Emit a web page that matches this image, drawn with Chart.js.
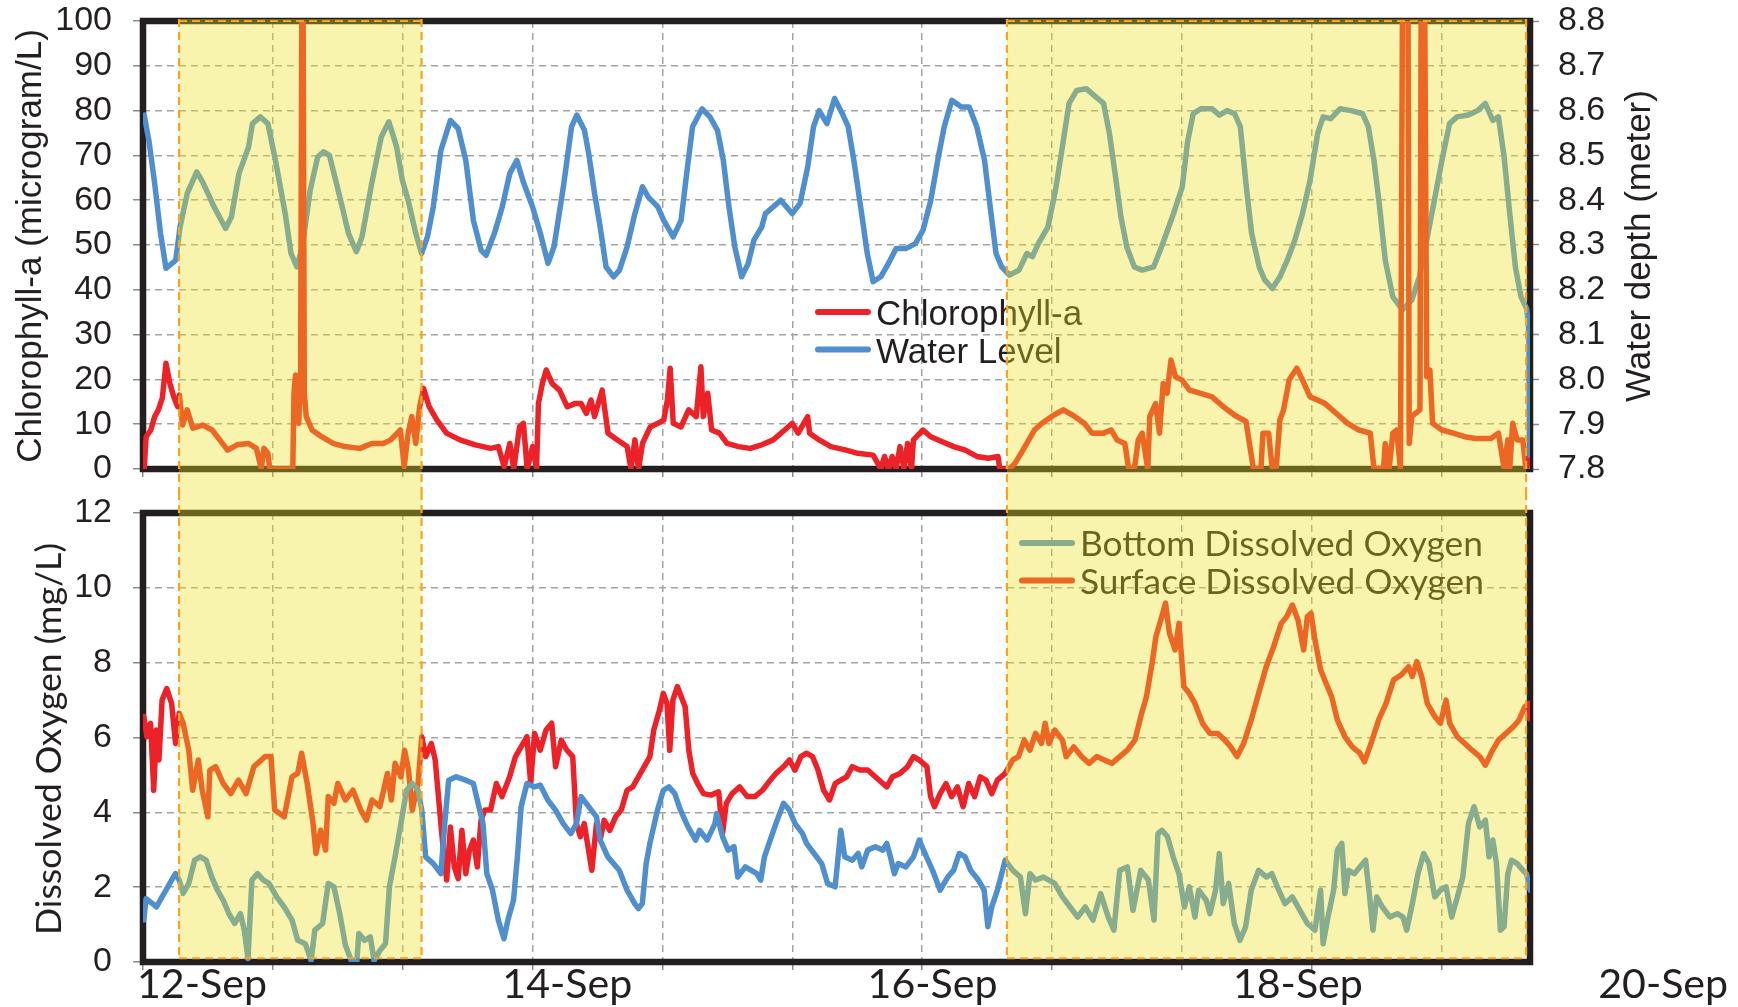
<!DOCTYPE html>
<html>
<head>
<meta charset="utf-8">
<style>
  html, body { margin: 0; padding: 0; background: #fff; }
  #wrap { position: relative; width: 1738px; height: 1007px; }
  #topBox { position: absolute; left: 0; top: 0; width: 1738px; height: 492px; }
  #botBox { position: absolute; left: 0; top: 492px; width: 1738px; height: 515px; }
</style>
<script src="https://cdn.jsdelivr.net/npm/chart.js"></script>
</head>
<body>
<div id="wrap">
  <div id="topBox"><canvas id="topChart"></canvas></div>
  <div id="botBox"><canvas id="botChart"></canvas></div>
</div>

<script>
// ---- data (day of September) ----
const wlDays = [12.006,12.03,12.06,12.09,12.118,12.138,12.168,12.19,12.227,12.276,12.306,12.365,12.424,12.454,12.493,12.542,12.562,12.602,12.641,12.68,12.73,12.76,12.79,12.818,12.858,12.897,12.927,12.957,13.006,13.055,13.095,13.124,13.174,13.223,13.262,13.302,13.331,13.361,13.4,13.43,13.46,13.49,13.529,13.578,13.618,13.657,13.696,13.736,13.761,13.804,13.844,13.883,13.919,13.952,14.0,14.04,14.079,14.11,14.158,14.2,14.227,14.266,14.288,14.318,14.347,14.377,14.416,14.446,14.485,14.525,14.564,14.594,14.643,14.673,14.722,14.762,14.791,14.821,14.87,14.91,14.949,14.979,15.008,15.038,15.073,15.107,15.136,15.176,15.195,15.235,15.274,15.333,15.373,15.412,15.442,15.471,15.511,15.55,15.59,15.62,15.649,15.689,15.718,15.748,15.787,15.827,15.866,15.915,15.965,16.004,16.044,16.083,16.113,16.152,16.201,16.241,16.28,16.32,16.349,16.379,16.408,16.448,16.497,16.537,16.566,16.596,16.645,16.684,16.714,16.754,16.793,16.842,16.882,16.931,16.961,16.99,17.02,17.05,17.089,17.129,17.188,17.232,17.29,17.335,17.362,17.391,17.43,17.488,17.526,17.565,17.604,17.633,17.662,17.691,17.73,17.758,17.797,17.836,17.874,17.913,17.952,17.991,18.03,18.058,18.097,18.145,18.203,18.261,18.29,18.319,18.348,18.377,18.416,18.465,18.513,18.552,18.59,18.629,18.668,18.707,18.745,18.803,18.852,18.89,18.929,18.958,18.987,19.016,19.045,19.074,19.103,19.115,19.12];
const wlDepth = [8.59,8.534,8.437,8.326,8.248,8.255,8.266,8.34,8.415,8.463,8.441,8.385,8.337,8.363,8.46,8.519,8.571,8.586,8.571,8.489,8.37,8.281,8.251,8.296,8.422,8.497,8.508,8.5,8.415,8.326,8.285,8.318,8.437,8.541,8.575,8.519,8.445,8.4,8.326,8.281,8.318,8.385,8.511,8.578,8.56,8.489,8.355,8.288,8.277,8.326,8.385,8.46,8.489,8.441,8.385,8.326,8.259,8.296,8.43,8.564,8.59,8.556,8.504,8.415,8.34,8.251,8.229,8.244,8.296,8.37,8.43,8.407,8.385,8.355,8.318,8.355,8.46,8.564,8.604,8.586,8.556,8.489,8.385,8.296,8.229,8.259,8.311,8.34,8.37,8.385,8.4,8.37,8.393,8.474,8.564,8.6,8.571,8.627,8.593,8.564,8.489,8.37,8.281,8.218,8.229,8.259,8.292,8.292,8.303,8.333,8.4,8.497,8.564,8.623,8.608,8.608,8.564,8.489,8.385,8.281,8.251,8.233,8.244,8.281,8.274,8.303,8.34,8.422,8.504,8.616,8.645,8.649,8.634,8.616,8.549,8.46,8.363,8.296,8.251,8.244,8.251,8.30,8.37,8.43,8.53,8.593,8.604,8.604,8.59,8.6,8.593,8.564,8.437,8.326,8.251,8.222,8.203,8.229,8.266,8.311,8.37,8.445,8.549,8.586,8.582,8.604,8.6,8.593,8.564,8.489,8.385,8.266,8.184,8.155,8.177,8.229,8.311,8.4,8.489,8.571,8.586,8.59,8.6,8.616,8.578,8.586,8.497,8.37,8.251,8.184,8.158,8.103,7.805];

const chlDays = [12.006,12.016,12.04,12.06,12.079,12.099,12.118,12.138,12.158,12.178,12.187,12.203,12.227,12.256,12.306,12.355,12.394,12.434,12.483,12.542,12.582,12.607,12.621,12.641,12.651,12.769,12.775,12.783,12.799,12.809,12.815,12.822,12.828,12.838,12.868,12.917,12.976,13.036,13.114,13.174,13.233,13.272,13.321,13.341,13.361,13.38,13.4,13.42,13.44,13.469,13.509,13.558,13.627,13.706,13.785,13.824,13.854,13.883,13.903,13.933,13.953,13.972,14.0,14.02,14.03,14.05,14.07,14.1,14.138,14.178,14.217,14.249,14.276,14.3,14.318,14.357,14.387,14.436,14.485,14.505,14.525,14.544,14.564,14.604,14.643,14.673,14.692,14.706,14.722,14.762,14.801,14.84,14.864,14.876,14.899,14.919,14.959,14.998,15.057,15.117,15.176,15.235,15.294,15.333,15.363,15.412,15.422,15.471,15.531,15.61,15.669,15.748,15.787,15.807,15.827,15.846,15.866,15.886,15.906,15.925,15.945,15.955,16.004,16.044,16.103,16.162,16.221,16.28,16.339,16.389,16.398,16.448,16.477,16.517,16.576,16.615,16.674,16.724,16.773,16.832,16.872,16.931,16.97,17.0,17.04,17.06,17.089,17.109,17.129,17.158,17.168,17.198,17.218,17.237,17.257,17.277,17.3,17.333,17.372,17.43,17.488,17.546,17.604,17.662,17.685,17.7,17.739,17.749,17.778,17.797,17.817,17.836,17.855,17.884,17.923,17.952,17.991,18.03,18.068,18.126,18.184,18.242,18.3,18.319,18.368,18.377,18.397,18.416,18.435,18.455,18.465,18.494,18.5,18.513,18.532,18.555,18.561,18.58,18.59,18.606,18.62,18.668,18.726,18.784,18.842,18.919,18.958,18.987,19.006,19.016,19.031,19.054,19.083,19.099,19.12];
const chlVals = [0.1,7.2,8.7,11.7,13.2,15.8,23.6,19.1,16.1,13.9,16.5,9.8,13.2,9.1,9.8,8.7,6.5,4.2,5.4,5.7,4.6,0.1,4.6,3.5,0,0,16.9,21,10.2,19.1,100,100,16.9,11.7,8.7,7.2,5.7,5.0,4.6,5.7,5.7,6.5,8.7,0.5,8.0,11.7,5.7,13.9,18,13.9,10.9,8.0,6.5,5.4,4.6,5.0,0.5,5.7,0,9.4,10.2,0,5.0,0.1,14.6,19.1,22.1,19.1,17.6,13.9,14.6,14.6,12.4,15.4,11.7,17.6,8.0,6.5,5.0,0.1,6.5,0,5.7,9.4,10.2,10.9,15.4,22.5,10.2,9.4,13.2,11.7,22.8,11.7,16.9,8.7,8.0,5.7,5.0,4.6,5.4,6.5,8.7,10.2,8.0,11.7,8.0,6.5,5.0,4.2,3.5,3.1,0.1,2.8,0,2.8,0,5.0,0,5.7,0,6.5,8.7,7.2,6.1,5.0,4.2,2.8,2.4,2.8,0,0,1.3,4.2,8.7,10.2,12,13.2,12,10.2,8.0,8.0,8.7,6.5,5.7,0,0,6.5,8.0,0,11.7,14.6,8.0,19.1,16.9,24.3,20.6,19.9,17.6,16.9,16.1,13.9,12.0,10.6,4.2,0.1,0.1,8.0,8.0,0.1,0.1,10.9,13.2,19.9,22.5,19.9,16.1,15.4,14.6,12.4,10.2,8.7,8.0,0.1,0.1,5.7,0.1,8.0,8.7,0.1,100,100,5.7,11.7,12.4,13.2,100,100,20.6,22.1,10.2,8.7,8.0,7.2,6.8,6.8,8.0,0.1,6.5,0.1,10.2,6.5,6.5,0,2];

const sdoDays = [12.004,12.02,12.039,12.055,12.069,12.082,12.098,12.122,12.147,12.167,12.186,12.206,12.235,12.255,12.284,12.304,12.333,12.343,12.373,12.412,12.451,12.49,12.529,12.569,12.627,12.657,12.676,12.725,12.765,12.794,12.814,12.843,12.873,12.888,12.912,12.937,12.951,12.98,13.0,13.039,13.078,13.118,13.147,13.176,13.216,13.255,13.275,13.294,13.324,13.343,13.363,13.382,13.412,13.431,13.451,13.48,13.5,13.529,13.545,13.559,13.578,13.598,13.618,13.637,13.657,13.676,13.696,13.716,13.735,13.755,13.784,13.814,13.843,13.882,13.912,13.941,13.971,13.99,14.01,14.039,14.069,14.098,14.118,14.147,14.176,14.206,14.225,14.245,14.265,14.304,14.328,14.347,14.367,14.396,14.426,14.455,14.485,14.514,14.543,14.573,14.602,14.622,14.651,14.671,14.69,14.704,14.72,14.743,14.763,14.783,14.802,14.822,14.847,14.877,14.916,14.955,14.975,14.994,15.024,15.063,15.102,15.141,15.18,15.22,15.249,15.288,15.318,15.347,15.377,15.406,15.437,15.465,15.494,15.524,15.553,15.582,15.612,15.641,15.68,15.72,15.759,15.798,15.818,15.847,15.886,15.925,15.955,15.984,16.024,16.043,16.063,16.092,16.122,16.151,16.181,16.21,16.239,16.269,16.298,16.327,16.357,16.386,16.426,16.465,16.494,16.524,16.553,16.582,16.612,16.631,16.651,16.68,16.72,16.739,16.778,16.818,16.857,16.896,16.935,16.974,17.014,17.053,17.092,17.122,17.151,17.18,17.2,17.23,17.249,17.269,17.298,17.318,17.343,17.371,17.4,17.439,17.477,17.516,17.554,17.583,17.616,17.65,17.689,17.727,17.766,17.804,17.843,17.871,17.9,17.929,17.958,17.977,17.996,18.016,18.045,18.073,18.102,18.131,18.17,18.208,18.247,18.27,18.304,18.343,18.381,18.42,18.458,18.497,18.516,18.539,18.564,18.593,18.631,18.66,18.689,18.708,18.747,18.785,18.823,18.862,18.891,18.92,18.958,18.997,19.035,19.064,19.093,19.116,19.12];
const sdoVals = [6.56,6.02,6.38,4.59,6.2,5.4,7.0,7.31,6.91,5.84,6.65,6.38,5.66,4.59,5.4,4.59,3.88,5.13,5.22,4.77,4.5,4.86,4.5,5.22,5.49,5.49,4.06,3.88,4.95,5.04,5.58,4.77,3.7,2.9,3.52,2.99,4.42,4.24,4.77,4.33,4.59,4.06,3.79,4.33,4.15,5.04,4.33,5.31,4.95,5.66,5.13,4.06,4.77,6.02,5.49,5.84,5.4,3.7,2.81,2.19,3.61,2.54,2.23,3.52,2.36,2.99,3.26,2.54,3.79,4.06,4.06,4.77,4.42,4.95,5.49,5.75,6.02,4.77,6.11,5.66,6.2,6.38,5.22,5.93,5.66,5.49,3.7,3.35,3.7,2.45,3.7,3.26,3.79,3.52,3.88,4.06,4.59,4.68,4.95,5.22,5.49,6.2,6.73,7.18,6.91,5.66,7.0,7.36,7.09,6.82,5.66,5.04,4.77,4.5,4.46,4.55,3.43,4.24,4.5,4.68,4.42,4.42,4.59,4.86,5.04,5.22,5.4,5.13,5.49,5.58,5.49,5.13,4.59,4.33,4.77,4.86,4.95,5.22,5.13,5.13,4.95,4.77,4.68,4.95,5.04,5.22,5.49,5.4,5.22,4.42,4.15,4.5,4.77,4.42,4.68,4.15,4.77,4.42,4.95,4.86,4.5,4.86,5.04,5.4,5.49,5.93,5.66,6.11,5.84,6.38,5.84,6.2,5.93,5.49,5.75,5.49,5.31,5.49,5.4,5.31,5.49,5.66,5.93,6.56,7.09,7.98,8.7,9.23,9.59,8.79,8.34,9.05,7.36,7.18,6.91,6.38,6.11,6.11,5.93,5.75,5.49,5.84,6.47,7.18,7.89,8.43,9.05,9.23,9.54,9.14,8.34,9.23,9.32,8.61,7.81,7.45,7.09,6.47,6.02,5.75,5.58,5.35,5.84,6.47,6.91,7.54,7.67,7.89,7.63,8.03,7.63,6.91,6.56,6.38,7.0,6.38,6.02,5.84,5.66,5.49,5.26,5.58,5.93,6.11,6.29,6.47,6.82,6.91,6.5];

const bdoDays = [12.004,12.016,12.049,12.069,12.098,12.118,12.147,12.167,12.186,12.206,12.235,12.265,12.294,12.324,12.353,12.382,12.412,12.441,12.471,12.5,12.52,12.539,12.559,12.588,12.618,12.647,12.686,12.725,12.765,12.794,12.833,12.863,12.882,12.922,12.951,12.98,13.01,13.039,13.069,13.098,13.108,13.137,13.167,13.186,13.216,13.245,13.265,13.294,13.324,13.353,13.382,13.412,13.431,13.451,13.49,13.529,13.549,13.569,13.608,13.657,13.696,13.716,13.745,13.765,13.794,13.824,13.853,13.873,13.902,13.922,13.941,13.971,14.01,14.039,14.078,14.118,14.157,14.196,14.225,14.249,14.288,14.328,14.347,14.386,14.445,14.485,14.524,14.543,14.563,14.583,14.602,14.641,14.671,14.7,14.73,14.759,14.798,14.837,14.857,14.896,14.936,14.945,14.975,15.004,15.034,15.053,15.092,15.151,15.171,15.19,15.22,15.249,15.288,15.318,15.347,15.386,15.406,15.445,15.484,15.514,15.553,15.582,15.602,15.641,15.671,15.69,15.72,15.759,15.798,15.818,15.837,15.857,15.877,15.916,15.955,15.985,16.014,16.053,16.092,16.131,16.161,16.19,16.22,16.249,16.288,16.318,16.337,16.357,16.386,16.426,16.465,16.504,16.53,16.553,16.582,16.622,16.68,16.72,16.759,16.798,16.837,16.877,16.916,16.955,16.984,17.014,17.053,17.082,17.122,17.161,17.19,17.21,17.23,17.259,17.288,17.318,17.346,17.371,17.4,17.419,17.458,17.477,17.506,17.525,17.545,17.573,17.602,17.631,17.66,17.689,17.727,17.766,17.795,17.823,17.862,17.9,17.939,17.977,18.016,18.045,18.058,18.083,18.112,18.131,18.154,18.17,18.189,18.218,18.247,18.276,18.295,18.314,18.333,18.362,18.401,18.439,18.468,18.487,18.516,18.545,18.574,18.602,18.631,18.66,18.689,18.718,18.747,18.775,18.804,18.833,18.862,18.891,18.91,18.929,18.948,18.968,18.987,19.006,19.025,19.054,19.083,19.102,19.121];
const bdoVals = [1.12,1.69,1.56,1.47,1.74,1.92,2.19,2.36,2.19,1.83,2.1,2.72,2.81,2.72,2.27,1.92,1.65,1.29,1.03,1.29,0.85,0.09,2.19,2.36,2.19,2.1,1.74,1.47,1.12,0.58,0.49,0.04,0.85,1.03,2.1,2.01,1.29,0.45,0.04,0.04,0.76,0.58,0.67,0.04,0.31,0.49,2.01,2.81,3.7,4.59,4.77,4.59,4.06,2.81,2.63,2.36,3.7,4.86,4.95,4.86,4.77,4.33,3.7,2.36,1.92,1.12,0.62,1.12,1.65,2.81,4.15,4.77,4.68,4.73,4.33,4.06,3.7,3.43,3.7,4.42,4.15,3.88,3.26,2.81,2.45,1.92,1.56,1.43,1.56,2.63,3.17,4.06,4.59,4.68,4.5,4.06,3.61,3.26,3.52,3.26,3.7,3.97,3.35,2.99,3.08,2.27,2.54,2.36,2.19,2.81,3.26,3.7,4.24,4.06,3.7,3.43,3.17,2.9,2.63,2.1,2.01,3.52,2.81,2.72,2.9,2.54,2.99,3.08,2.99,3.17,2.81,2.36,2.63,2.54,2.81,3.26,2.9,2.45,1.92,2.27,2.45,2.9,2.81,2.45,2.19,1.92,0.94,1.47,1.92,2.72,2.45,2.27,1.29,2.36,2.19,2.27,2.1,1.74,1.47,1.2,1.47,1.12,1.83,1.2,0.85,2.45,2.54,1.38,2.45,2.19,1.12,3.43,3.52,3.35,2.81,2.36,1.47,2.01,1.2,1.92,1.65,1.29,1.92,2.9,1.56,2.1,1.03,0.58,0.94,1.92,2.45,2.27,2.36,2.01,1.56,1.74,1.38,1.03,0.85,1.92,0.49,1.2,1.92,2.99,3.17,1.83,2.45,2.36,2.54,2.72,1.83,0.85,1.74,1.47,1.2,1.29,1.2,0.85,1.56,2.36,2.9,2.63,1.74,1.92,2.01,1.2,1.74,2.27,3.7,4.15,3.61,3.79,2.81,3.26,2.63,0.85,0.94,2.36,2.72,2.63,2.45,2.36,1.92];

const xGrid = [12, 12.667, 13.333, 14, 14.667, 15.333, 16, 16.667, 17.333, 18, 18.667];
const dateLabels = ['12-Sep', '14-Sep', '16-Sep', '18-Sep', '20-Sep'];
const shadeStart = [12.185, 16.435];
const shadeEnd = [13.43, 19.1];

const RED = '#ed2228';
const BLUE = '#4f8fcd';
const INK = '#231f20';
const ARIAL = '"Liberation Sans", Arial, sans-serif';
const CALI = 'Lato, "Open Sans", sans-serif';

Chart.defaults.font.family = ARIAL;

const pts = (xs, ys) => xs.map((x, i) => ({ x: x, y: ys[i] }));

function fitFont(ctx, text, family, width) {
  ctx.font = '100px ' + family;
  return 100 * width / ctx.measureText(text).width;
}

function vText(ctx, text, x, y, font) {
  ctx.save();
  ctx.translate(x, y);
  ctx.rotate(-Math.PI / 2);
  ctx.font = font;
  ctx.fillStyle = INK;
  ctx.textAlign = 'center';
  ctx.textBaseline = 'middle';
  ctx.fillText(text, 0, 0);
  ctx.restore();
}

// frame, legend, yellow periods, titles
const panelDeco = {
  id: 'panelDeco',
  beforeDatasetsDraw(chart) {
    const { ctx, chartArea: a } = chart;
    ctx.save();
    ctx.strokeStyle = INK;
    ctx.lineWidth = 6.5;
    ctx.strokeRect(a.left, a.top, a.right - a.left, a.bottom - a.top);
    ctx.restore();
  },
  afterDatasetsDraw(chart, args, o) {
    const { ctx, chartArea: a, scales } = chart;
    ctx.save();
    // legend
    let fs = o.legendSize;
    if (o.legendFit) fs = fitFont(ctx, chart.data.datasets[0].label, o.legendFamily, o.legendFit);
    chart.data.datasets.forEach((ds, i) => {
      const y = o.legendY + i * o.legendGap;
      ctx.strokeStyle = ds.borderColor;
      ctx.lineWidth = 6;
      ctx.lineCap = 'round';
      ctx.beginPath();
      ctx.moveTo(o.legendX, y);
      ctx.lineTo(o.legendX + 50, y);
      ctx.stroke();
      ctx.fillStyle = INK;
      ctx.font = fs + 'px ' + o.legendFamily;
      ctx.textBaseline = 'alphabetic';
      ctx.fillText(ds.label, o.legendX + 58, y + o.textDrop);
    });
    // shaded periods
    const y0 = o.shadeTop ? a.top - 2 : 0;
    const y1 = o.shadeTop ? chart.height : scales.y.getPixelForValue(0.1);
    shadeStart.forEach((s, i) => {
      const x0 = scales.x.getPixelForValue(s);
      const x1 = scales.x.getPixelForValue(shadeEnd[i]);
      ctx.fillStyle = 'rgba(235,225,30,0.36)';
      ctx.fillRect(x0, y0, x1 - x0, y1 - y0);
      ctx.strokeStyle = '#f6a521';
      ctx.lineWidth = 2.2;
      ctx.lineCap = 'butt';
      ctx.setLineDash([8, 5]);
      ctx.beginPath();
      ctx.moveTo(x0, y0); ctx.lineTo(x0, y1);
      ctx.moveTo(x1, y0); ctx.lineTo(x1, y1);
      if (o.shadeTop) { ctx.moveTo(x0, a.top); ctx.lineTo(x1, a.top); }
      else { ctx.moveTo(x0, y1); ctx.lineTo(x1, y1); }
      ctx.stroke();
      ctx.setLineDash([]);
    });
    ctx.restore();
  },
  afterDraw(chart, args, o) {
    const { ctx, scales } = chart;
    o.titles.forEach(t => {
      let font = t.font;
      if (t.fit) font = fitFont(ctx, t.text, t.family, t.fit) + 'px ' + t.family;
      vText(ctx, t.text, t.x, t.y, font);
    });
    if (o.dates) {
      ctx.save();
      const size = fitFont(ctx, dateLabels[0], CALI, 130);
      ctx.font = size + 'px ' + CALI;
      ctx.fillStyle = INK;
      ctx.textAlign = 'left';
      ctx.textBaseline = 'alphabetic';
      dateLabels.forEach((d, i) => {
        ctx.fillText(d, scales.x.left - 6 + i * 365.3, 506);
      });
      ctx.restore();
    }
  }
};

const gridOpts = { color: '#a3a3a3', lineWidth: 1.5, tickColor: '#8a8a8a', tickWidth: 1.5, tickLength: 8 };
const lineStyle = { pointRadius: 0, borderWidth: 5.5, tension: 0, fill: false, borderJoinStyle: 'round', borderCapStyle: 'round' };
const tickFont = { family: ARIAL, size: 34 };

// pin the plot areas: fixed axis widths, no label overhang padding
const pinY = w => s => { s.width = w; s.paddingTop = 0; s.paddingBottom = 0; };

const xScale = {
  type: 'linear', min: 12, max: 19.12,
  afterBuildTicks: s => { s.ticks = xGrid.map(v => ({ value: v })); },
  afterFit: s => { s.height = 0; s.paddingLeft = 0; s.paddingRight = 0; },
  ticks: { display: false },
  grid: gridOpts,
  border: { display: false, dash: [7, 5] }
};

new Chart(document.getElementById('topChart'), {
  type: 'line',
  data: {
    datasets: [
      Object.assign({ label: 'Chlorophyll-a', data: pts(chlDays, chlVals), yAxisID: 'y', borderColor: RED }, lineStyle),
      Object.assign({ label: 'Water Level', data: pts(wlDays, wlDepth), yAxisID: 'y1', borderColor: BLUE }, lineStyle)
    ]
  },
  options: {
    responsive: true, maintainAspectRatio: false, animation: false, devicePixelRatio: 1,
    layout: { padding: { top: 21, bottom: 23, left: 0, right: 0 } },
    scales: {
      x: xScale,
      y: {
        min: 0, max: 100,
        ticks: { stepSize: 10, padding: 21, font: tickFont, color: INK, autoSkip: false },
        grid: Object.assign({}, gridOpts, { tickLength: 10 }),
        border: { display: false, dash: [7, 5] },
        afterFit: pinY(143)
      },
      y1: {
        position: 'right', min: 7.8, max: 8.8,
        ticks: { stepSize: 0.1, padding: 19, font: tickFont, color: INK, autoSkip: false, callback: v => v.toFixed(1) },
        grid: { drawOnChartArea: false, tickColor: '#8a8a8a', tickWidth: 1.5, tickLength: 9 },
        border: { display: false },
        afterFit: pinY(208)
      }
    },
    plugins: {
      legend: { display: false },
      tooltip: { enabled: false },
      panelDeco: {
        legendX: 818, legendY: 312, legendGap: 37.5, legendSize: 35, legendFamily: ARIAL, textDrop: 13,
        shadeTop: true,
        titles: [
          { text: 'Chlorophyll-a (microgram/L)', x: 31.5, y: 246, font: '35px ' + ARIAL },
          { text: 'Water depth (meter)', x: 1640, y: 246, font: '35px ' + ARIAL }
        ]
      }
    }
  },
  plugins: [panelDeco]
});

new Chart(document.getElementById('botChart'), {
  type: 'line',
  data: {
    datasets: [
      Object.assign({ label: 'Bottom Dissolved Oxygen', data: pts(bdoDays, bdoVals), borderColor: BLUE }, lineStyle),
      Object.assign({ label: 'Surface Dissolved Oxygen', data: pts(sdoDays, sdoVals), borderColor: RED }, lineStyle)
    ]
  },
  options: {
    responsive: true, maintainAspectRatio: false, animation: false, devicePixelRatio: 1,
    layout: { padding: { top: 21, bottom: 45, left: 0, right: 208 } },
    scales: {
      x: xScale,
      y: {
        min: 0, max: 12,
        ticks: { stepSize: 2, padding: 21, font: tickFont, color: INK, autoSkip: false },
        grid: Object.assign({}, gridOpts, { tickLength: 10 }),
        border: { display: false, dash: [7, 5] },
        afterFit: pinY(143)
      }
    },
    plugins: {
      legend: { display: false },
      tooltip: { enabled: false },
      panelDeco: {
        legendX: 1022, legendY: 51, legendGap: 37.5, legendFit: 403, legendFamily: CALI, textDrop: 13,
        shadeTop: false, dates: true,
        titles: [
          { text: 'Dissolved Oxygen (mg/L)', x: 49, y: 247, fit: 392, family: CALI }
        ]
      }
    }
  },
  plugins: [panelDeco]
});
</script>
</body>
</html>
